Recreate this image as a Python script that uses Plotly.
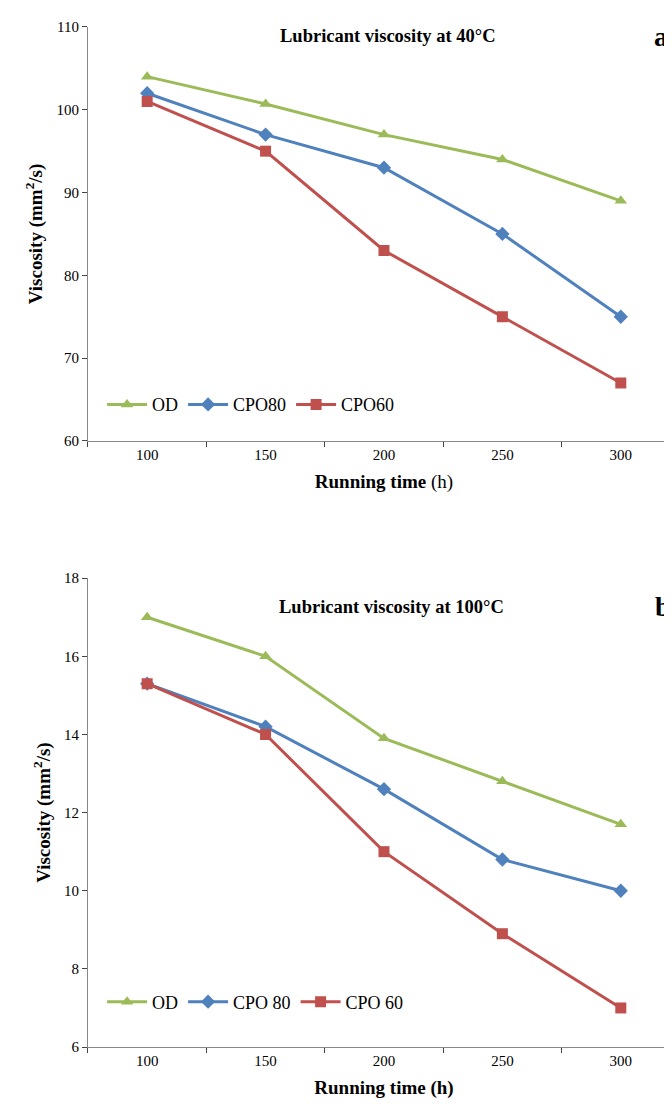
import plotly.graph_objects as go
from plotly.subplots import make_subplots

hours = ["100", "150", "200", "250", "300"]

od_40 = [104, 100.7, 97, 94, 89]
cpo80_40 = [102, 97, 93, 85, 75]
cpo60_40 = [101, 95, 83, 75, 67]

od_100 = [17, 16, 13.9, 12.8, 11.7]
cpo80_100 = [15.3, 14.2, 12.6, 10.8, 10]
cpo60_100 = [15.3, 14, 11, 8.9, 7]

GREEN = "#9BBB59"
BLUE = "#4F81BD"
RED = "#C0504D"
FONT = "Liberation Serif"

fig = make_subplots(rows=2, cols=1, vertical_spacing=0.13)

series = [
    (1, "legend", [("OD", od_40, GREEN, "triangle-up"), ("CPO80", cpo80_40, BLUE, "diamond"),
                   ("CPO60", cpo60_40, RED, "square")]),
    (2, "legend2", [("OD", od_100, GREEN, "triangle-up"), ("CPO 80", cpo80_100, BLUE, "diamond"),
                    ("CPO 60", cpo60_100, RED, "square")]),
]
for row, leg, traces in series:
    for name, vals, color, sym in traces:
        fig.add_trace(go.Scatter(x=hours, y=vals, name=name, mode="lines+markers", legend=leg,
                                 line=dict(color=color, width=3),
                                 marker=dict(symbol=sym, size=11, color=color)), row=row, col=1)

xaxis_style = dict(type="category", range=[-0.5, 4.5], tickson="boundaries", ticks="outside",
                   ticklen=5, showline=True, linecolor="#888", showgrid=False,
                   tickfont=dict(family=FONT, size=15, color="black"))
yaxis_style = dict(showline=True, linecolor="#888", showgrid=False, ticks="outside", ticklen=5,
                   tickfont=dict(family=FONT, size=15, color="black"), zeroline=False)

fig.update_xaxes(**xaxis_style)
fig.update_yaxes(**yaxis_style)
fig.update_xaxes(domain=[0.119, 1.0], row=1, col=1)
fig.update_xaxes(domain=[0.119, 1.0], row=2, col=1)
fig.update_yaxes(range=[60, 110], dtick=10, domain=[0.613, 0.99], row=1, col=1)
fig.update_yaxes(range=[6, 18], dtick=2, domain=[0.061, 0.488], row=2, col=1)

title_font = dict(family=FONT, size=19, color="black")
fig.update_xaxes(title=dict(text="<b>Running time</b> (h)", font=title_font, standoff=12), row=1, col=1)
fig.update_xaxes(title=dict(text="<b>Running time (h)</b>", font=title_font, standoff=12), row=2, col=1)
fig.update_yaxes(title=dict(text="<b>Viscosity (mm<sup>2</sup>/s)</b>", font=title_font, standoff=8))

annotations = [
    dict(text="<b>Lubricant viscosity at 40°C</b>", x=0.565, y=0.993, xanchor="center",
         font=dict(family=FONT, size=18.5, color="black")),
    dict(text="<b>Lubricant viscosity at 100°C</b>", x=0.57, y=0.473, xanchor="center",
         font=dict(family=FONT, size=18.5, color="black")),
    dict(text="<b>a</b>", x=0.985, y=0.997, xanchor="right",
         font=dict(family=FONT, size=28, color="black")),
    dict(text="<b>b</b>", x=0.99, y=0.478, xanchor="right",
         font=dict(family=FONT, size=28, color="black")),
]
for a in annotations:
    fig.add_annotation(xref="paper", yref="paper", showarrow=False, yanchor="top", **a)

legend_style = dict(orientation="h", xanchor="left", yanchor="middle", bgcolor="rgba(0,0,0,0)",
                    font=dict(family=FONT, size=18, color="black"), itemwidth=40)
fig.update_layout(
    width=672, height=1114, margin=dict(l=0, r=0, t=0, b=0),
    plot_bgcolor="white", paper_bgcolor="white",
    font=dict(family=FONT, color="black"),
    legend=dict(x=0.14, y=0.646, **legend_style),
    legend2=dict(x=0.14, y=0.102, **legend_style),
)

fig.write_html("out.html")
